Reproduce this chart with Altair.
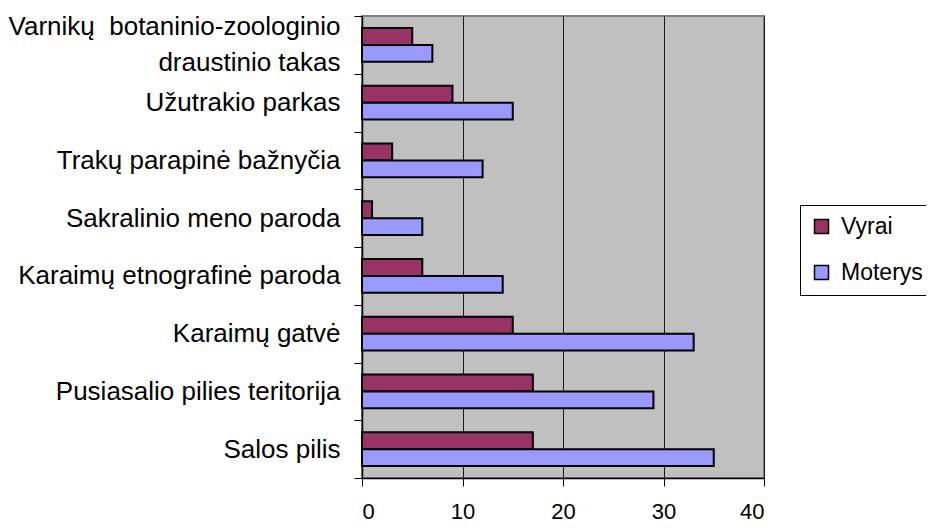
import altair as alt
import pandas as pd

categories = [
    "Varnikų\u00a0 botaninio-zoologinio|draustinio takas",
    "Užutrakio parkas",
    "Trakų parapinė bažnyčia",
    "Sakralinio meno paroda",
    "Karaimų etnografinė paroda",
    "Karaimų gatvė",
    "Pusiasalio pilies teritorija",
    "Salos pilis",
]
vyrai = [5, 9, 3, 1, 6, 15, 17, 17]
moterys = [7, 15, 12, 6, 14, 33, 29, 35]
series = ["Vyrai", "Moterys"]
colors = ["#993366", "#9999FF"]
x_ticks = [0, 10, 20, 30, 40]

rows = []
for c, v, m in zip(categories, vyrai, moterys):
    rows.append({"cat": c, "series": "Vyrai", "value": v})
    rows.append({"cat": c, "series": "Moterys", "value": m})
df = pd.DataFrame(rows)

FONT = "Liberation Sans"

label_expr = (
    "indexof(datum.label, '|') >= 0 ? "
    "[split(datum.label, '|')[0], '\u200b', split(datum.label, '|')[1]] : "
    "['\u200b', datum.label]"
)

chart = alt.Chart(df).mark_bar(stroke="black", strokeWidth=2).encode(
    x=alt.X(
        "value:Q",
        scale=alt.Scale(domain=[0, 40], nice=False),
        axis=alt.Axis(
            values=x_ticks,
            title=None,
            grid=True,
            gridColor="#1a1a1a",
            gridWidth=1,
            domainColor="#000000",
            domainWidth=1.5,
            tickColor="#000000",
            tickSize=8,
            labelFontSize=22,
            labelPadding=15,
            labelColor="#000000",
            labelFont=FONT,
        ),
    ),
    y=alt.Y(
        "cat:N",
        sort=categories,
        scale=alt.Scale(paddingInner=0, paddingOuter=0),
        axis=alt.Axis(
            title=None,
            tickBand="extent",
            labelExpr=label_expr,
            labelLineHeight=18,
            labelOffset=-18,
            labelBaseline="middle",
            labelOverlap=False,
            domainColor="#000000",
            domainWidth=1.5,
            tickColor="#000000",
            tickSize=8,
            labelFontSize=26,
            labelPadding=14,
            labelColor="#000000",
            labelFont=FONT,
            labelLimit=400,
        ),
    ),
    yOffset=alt.YOffset(
        "series:N",
        sort=series,
        scale=alt.Scale(paddingOuter=0.7, paddingInner=0),
    ),
    color=alt.Color(
        "series:N",
        sort=series,
        scale=alt.Scale(domain=series, range=colors),
        legend=alt.Legend(
            title=None,
            orient="none",
            legendX=438,
            legendY=189,
            symbolType="square",
            symbolSize=196,
            symbolStrokeColor="black",
            symbolStrokeWidth=1.5,
            labelFontSize=23,
            labelFont=FONT,
            labelColor="#000000",
            labelOffset=8,
            rowPadding=22,
            padding=10,
            strokeColor="#000000",
            fillColor="#FFFFFF",
        ),
    ),
).properties(
    width=402,
    height=462,
    background="#FFFFFF",
    autosize=alt.AutoSizeParams(type="none"),
    padding={"left": 354, "top": 8, "right": 162, "bottom": 46},
).configure_view(
    fill="#C0C0C0",
    stroke="#808080",
    strokeWidth=2,
)

chart.save("out.html", embed_options={"renderer": "svg", "actions": False})
